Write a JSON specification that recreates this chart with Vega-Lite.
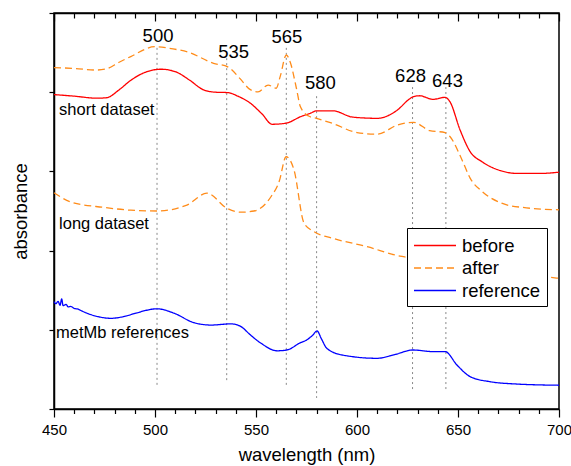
{
  "$schema": "https://vega.github.io/schema/vega-lite/v6.json",
  "width": 505,
  "height": 396,
  "autosize": {"type": "none"},
  "padding": {"left": 54, "top": 13, "right": 12, "bottom": 57},
  "background": "white",
  "config": {
    "font": "Liberation Sans",
    "view": {"stroke": "black", "strokeWidth": 1.5},
    "axis": {"domainColor": "black", "domainWidth": 1.5, "tickColor": "black", "tickWidth": 1.2, "grid": false, "labelColor": "black", "titleColor": "black", "labelFont": "Liberation Sans", "titleFont": "Liberation Sans", "titleFontWeight": "normal"}
  },
  "datasets": {
    "spectra": [
      {"w": 450, "v": 7.94, "curve": "before short", "type": "before"},
      {"w": 460, "v": 7.90, "curve": "before short", "type": "before"},
      {"w": 471, "v": 7.85, "curve": "before short", "type": "before"},
      {"w": 476, "v": 7.86, "curve": "before short", "type": "before"},
      {"w": 482, "v": 8.05, "curve": "before short", "type": "before"},
      {"w": 488, "v": 8.30, "curve": "before short", "type": "before"},
      {"w": 495, "v": 8.50, "curve": "before short", "type": "before"},
      {"w": 503, "v": 8.58, "curve": "before short", "type": "before"},
      {"w": 510, "v": 8.52, "curve": "before short", "type": "before"},
      {"w": 517, "v": 8.31, "curve": "before short", "type": "before"},
      {"w": 524, "v": 8.06, "curve": "before short", "type": "before"},
      {"w": 530, "v": 8.00, "curve": "before short", "type": "before"},
      {"w": 536, "v": 7.99, "curve": "before short", "type": "before"},
      {"w": 541, "v": 7.90, "curve": "before short", "type": "before"},
      {"w": 547, "v": 7.73, "curve": "before short", "type": "before"},
      {"w": 553, "v": 7.45, "curve": "before short", "type": "before"},
      {"w": 558, "v": 7.19, "curve": "before short", "type": "before"},
      {"w": 565, "v": 7.22, "curve": "before short", "type": "before"},
      {"w": 572, "v": 7.38, "curve": "before short", "type": "before"},
      {"w": 577, "v": 7.47, "curve": "before short", "type": "before"},
      {"w": 580, "v": 7.53, "curve": "before short", "type": "before"},
      {"w": 588, "v": 7.53, "curve": "before short", "type": "before"},
      {"w": 598, "v": 7.37, "curve": "before short", "type": "before"},
      {"w": 610, "v": 7.34, "curve": "before short", "type": "before"},
      {"w": 620, "v": 7.55, "curve": "before short", "type": "before"},
      {"w": 626, "v": 7.83, "curve": "before short", "type": "before"},
      {"w": 628, "v": 7.89, "curve": "before short", "type": "before"},
      {"w": 631, "v": 7.91, "curve": "before short", "type": "before"},
      {"w": 637.6, "v": 7.82, "curve": "before short", "type": "before"},
      {"w": 643.6, "v": 7.87, "curve": "before short", "type": "before"},
      {"w": 646, "v": 7.76, "curve": "before short", "type": "before"},
      {"w": 651, "v": 7.05, "curve": "before short", "type": "before"},
      {"w": 656, "v": 6.50, "curve": "before short", "type": "before"},
      {"w": 662, "v": 6.24, "curve": "before short", "type": "before"},
      {"w": 671, "v": 6.02, "curve": "before short", "type": "before"},
      {"w": 679, "v": 5.95, "curve": "before short", "type": "before"},
      {"w": 691, "v": 5.95, "curve": "before short", "type": "before"},
      {"w": 700, "v": 5.98, "curve": "before short", "type": "before"},

      {"w": 450, "v": 8.62, "curve": "after short", "type": "after"},
      {"w": 460, "v": 8.60, "curve": "after short", "type": "after"},
      {"w": 471, "v": 8.56, "curve": "after short", "type": "after"},
      {"w": 476, "v": 8.59, "curve": "after short", "type": "after"},
      {"w": 482, "v": 8.75, "curve": "after short", "type": "after"},
      {"w": 488, "v": 8.90, "curve": "after short", "type": "after"},
      {"w": 500, "v": 9.15, "curve": "after short", "type": "after"},
      {"w": 508, "v": 9.10, "curve": "after short", "type": "after"},
      {"w": 516, "v": 9.02, "curve": "after short", "type": "after"},
      {"w": 529, "v": 8.73, "curve": "after short", "type": "after"},
      {"w": 536, "v": 8.64, "curve": "after short", "type": "after"},
      {"w": 542, "v": 8.35, "curve": "after short", "type": "after"},
      {"w": 547, "v": 8.07, "curve": "after short", "type": "after"},
      {"w": 551, "v": 8.01, "curve": "after short", "type": "after"},
      {"w": 556, "v": 8.18, "curve": "after short", "type": "after"},
      {"w": 560, "v": 8.10, "curve": "after short", "type": "after"},
      {"w": 562, "v": 8.40, "curve": "after short", "type": "after"},
      {"w": 565, "v": 8.94, "curve": "after short", "type": "after"},
      {"w": 567, "v": 8.75, "curve": "after short", "type": "after"},
      {"w": 570, "v": 8.10, "curve": "after short", "type": "after"},
      {"w": 572, "v": 7.63, "curve": "after short", "type": "after"},
      {"w": 576, "v": 7.40, "curve": "after short", "type": "after"},
      {"w": 580, "v": 7.34, "curve": "after short", "type": "after"},
      {"w": 588, "v": 7.21, "curve": "after short", "type": "after"},
      {"w": 600, "v": 6.98, "curve": "after short", "type": "after"},
      {"w": 610, "v": 6.94, "curve": "after short", "type": "after"},
      {"w": 620, "v": 7.17, "curve": "after short", "type": "after"},
      {"w": 628, "v": 7.24, "curve": "after short", "type": "after"},
      {"w": 636, "v": 7.03, "curve": "after short", "type": "after"},
      {"w": 643.6, "v": 6.98, "curve": "after short", "type": "after"},
      {"w": 646, "v": 6.88, "curve": "after short", "type": "after"},
      {"w": 652, "v": 6.29, "curve": "after short", "type": "after"},
      {"w": 656, "v": 5.83, "curve": "after short", "type": "after"},
      {"w": 662, "v": 5.49, "curve": "after short", "type": "after"},
      {"w": 672, "v": 5.19, "curve": "after short", "type": "after"},
      {"w": 682, "v": 5.09, "curve": "after short", "type": "after"},
      {"w": 700, "v": 5.03, "curve": "after short", "type": "after"},

      {"w": 450, "v": 5.46, "curve": "after long", "type": "after"},
      {"w": 458.3, "v": 5.23, "curve": "after long", "type": "after"},
      {"w": 474.8, "v": 5.09, "curve": "after long", "type": "after"},
      {"w": 488, "v": 5.02, "curve": "after long", "type": "after"},
      {"w": 501, "v": 5.00, "curve": "after long", "type": "after"},
      {"w": 515.8, "v": 5.15, "curve": "after long", "type": "after"},
      {"w": 525.7, "v": 5.45, "curve": "after long", "type": "after"},
      {"w": 535.6, "v": 5.07, "curve": "after long", "type": "after"},
      {"w": 542.6, "v": 4.97, "curve": "after long", "type": "after"},
      {"w": 549, "v": 5.00, "curve": "after long", "type": "after"},
      {"w": 557.4, "v": 5.36, "curve": "after long", "type": "after"},
      {"w": 561.5, "v": 5.75, "curve": "after long", "type": "after"},
      {"w": 564.9, "v": 6.37, "curve": "after long", "type": "after"},
      {"w": 568.8, "v": 6.04, "curve": "after long", "type": "after"},
      {"w": 573.8, "v": 4.69, "curve": "after long", "type": "after"},
      {"w": 578.7, "v": 4.48, "curve": "after long", "type": "after"},
      {"w": 588.1, "v": 4.31, "curve": "after long", "type": "after"},
      {"w": 605, "v": 4.10, "curve": "after long", "type": "after"},
      {"w": 621.3, "v": 3.86, "curve": "after long", "type": "after"},
      {"w": 624.8, "v": 3.83, "curve": "after long", "type": "after"},
      {"w": 640, "v": 3.70, "curve": "after long", "type": "after"},
      {"w": 660, "v": 3.55, "curve": "after long", "type": "after"},
      {"w": 680, "v": 3.42, "curve": "after long", "type": "after"},
      {"w": 700, "v": 3.30, "curve": "after long", "type": "after"},

      {"w": 450, "v": 2.71, "curve": "reference", "type": "reference"},
      {"w": 451, "v": 2.66, "curve": "reference", "type": "reference"},
      {"w": 452, "v": 2.72, "curve": "reference", "type": "reference"},
      {"w": 453, "v": 2.62, "curve": "reference", "type": "reference"},
      {"w": 453.8, "v": 2.78, "curve": "reference", "type": "reference"},
      {"w": 454.5, "v": 2.61, "curve": "reference", "type": "reference"},
      {"w": 456, "v": 2.64, "curve": "reference", "type": "reference"},
      {"w": 457, "v": 2.58, "curve": "reference", "type": "reference"},
      {"w": 458.3, "v": 2.59, "curve": "reference", "type": "reference"},
      {"w": 460, "v": 2.54, "curve": "reference", "type": "reference"},
      {"w": 462, "v": 2.52, "curve": "reference", "type": "reference"},
      {"w": 464, "v": 2.47, "curve": "reference", "type": "reference"},
      {"w": 466.3, "v": 2.42, "curve": "reference", "type": "reference"},
      {"w": 472, "v": 2.33, "curve": "reference", "type": "reference"},
      {"w": 478.2, "v": 2.29, "curve": "reference", "type": "reference"},
      {"w": 485, "v": 2.34, "curve": "reference", "type": "reference"},
      {"w": 491.1, "v": 2.43, "curve": "reference", "type": "reference"},
      {"w": 501, "v": 2.53, "curve": "reference", "type": "reference"},
      {"w": 509.4, "v": 2.42, "curve": "reference", "type": "reference"},
      {"w": 519.3, "v": 2.18, "curve": "reference", "type": "reference"},
      {"w": 527.7, "v": 2.12, "curve": "reference", "type": "reference"},
      {"w": 537.6, "v": 2.15, "curve": "reference", "type": "reference"},
      {"w": 542.6, "v": 2.08, "curve": "reference", "type": "reference"},
      {"w": 547, "v": 1.88, "curve": "reference", "type": "reference"},
      {"w": 552.5, "v": 1.66, "curve": "reference", "type": "reference"},
      {"w": 560.4, "v": 1.47, "curve": "reference", "type": "reference"},
      {"w": 565.3, "v": 1.49, "curve": "reference", "type": "reference"},
      {"w": 571.8, "v": 1.67, "curve": "reference", "type": "reference"},
      {"w": 575, "v": 1.74, "curve": "reference", "type": "reference"},
      {"w": 578, "v": 1.86, "curve": "reference", "type": "reference"},
      {"w": 580.2, "v": 1.97, "curve": "reference", "type": "reference"},
      {"w": 582.5, "v": 1.76, "curve": "reference", "type": "reference"},
      {"w": 585.1, "v": 1.53, "curve": "reference", "type": "reference"},
      {"w": 593.1, "v": 1.36, "curve": "reference", "type": "reference"},
      {"w": 609.9, "v": 1.28, "curve": "reference", "type": "reference"},
      {"w": 619, "v": 1.38, "curve": "reference", "type": "reference"},
      {"w": 627.7, "v": 1.49, "curve": "reference", "type": "reference"},
      {"w": 637.6, "v": 1.45, "curve": "reference", "type": "reference"},
      {"w": 643.6, "v": 1.45, "curve": "reference", "type": "reference"},
      {"w": 649.5, "v": 1.11, "curve": "reference", "type": "reference"},
      {"w": 655.9, "v": 0.82, "curve": "reference", "type": "reference"},
      {"w": 665.8, "v": 0.69, "curve": "reference", "type": "reference"},
      {"w": 679.2, "v": 0.63, "curve": "reference", "type": "reference"},
      {"w": 700, "v": 0.60, "curve": "reference", "type": "reference"}
    ],
    "peaks": [
      {"w": 501, "top": 9.12, "bottom": 0.56, "label": "500", "lx": 501.5, "ly": 9.27},
      {"w": 535.5, "top": 8.86, "bottom": 0.66, "label": "535", "lx": 538.9, "ly": 8.86},
      {"w": 565, "top": 9.12, "bottom": 0.61, "label": "565", "lx": 565.3, "ly": 9.25},
      {"w": 580, "top": 7.90, "bottom": 0.28, "label": "580", "lx": 581.9, "ly": 8.07},
      {"w": 627.5, "top": 8.13, "bottom": 0.43, "label": "628", "lx": 626.5, "ly": 8.27},
      {"w": 644, "top": 8.13, "bottom": 0.45, "label": "643", "lx": 644.8, "ly": 8.14}
    ],
    "names": [
      {"w": 452.5, "v": 7.43, "label": "short dataset"},
      {"w": 452.5, "v": 4.54, "label": "long dataset"},
      {"w": 451, "v": 1.79, "label": "metMb references"}
    ]
  },
  "resolve": {"axis": {"x": "independent"}},
  "layer": [
    {
      "data": {"name": "peaks"},
      "mark": {"type": "rule", "color": "#888888", "strokeDash": [2, 3], "strokeWidth": 1},
      "encoding": {
        "x": {"field": "w", "type": "quantitative", "scale": {"domain": [450, 700], "nice": false, "zero": false},
          "axis": {"orient": "bottom", "values": [450,460,470,480,490,500,510,520,530,540,550,560,570,580,590,600,610,620,630,640,650,660,670,680,690,700],
            "labelExpr": "datum.value % 50 === 0 ? datum.label : ''",
            "tickSize": {"condition": {"test": "datum.value % 50 === 0", "value": 8}, "value": 4.5},
            "labelFontSize": 15, "labelPadding": 5, "labelFlush": false,
            "title": "wavelength (nm)", "titleFontSize": 18.5, "titlePadding": 8}},
        "y": {"field": "top", "type": "quantitative", "scale": {"domain": [0, 10], "nice": false, "zero": false},
          "axis": {"values": [0,1,2,3,4,5,6,7,8,9,10], "labels": false, "tickSize": 5, "title": "absorbance", "titleFontSize": 18.5, "titlePadding": 18}},
        "y2": {"field": "bottom"}
      }
    },
    {
      "data": {"name": "spectra"},
      "mark": {"type": "line", "strokeWidth": 1.3, "interpolate": "monotone"},
      "encoding": {
        "x": {"field": "w", "type": "quantitative",
          "axis": {"orient": "top", "values": [450,460,470,480,490,500,510,520,530,540,550,560,570,580,590,600,610,620,630,640,650,660,670,680,690,700],
            "labels": false, "title": null,
            "tickSize": {"condition": {"test": "datum.value % 50 === 0", "value": -8}, "value": -5}}},
        "y": {"field": "v", "type": "quantitative"},
        "detail": {"field": "curve"},
        "color": {"field": "type", "type": "nominal",
          "scale": {"domain": ["before", "after", "reference"], "range": ["#ff0000", "#ff8c1a", "#0000ff"]},
          "legend": {"title": null, "orient": "none", "legendX": 353, "legendY": 215, "strokeColor": "black", "fillColor": "white", "padding": 6, "symbolType": "M-2,0L2,0", "symbolSize": 441, "symbolOffset": 10.5, "symbolStrokeWidth": 1.5, "labelFontSize": 18.5, "labelFont": "Liberation Sans", "labelColor": "black", "rowPadding": 1.5, "labelOffset": 15.5, "cornerRadius": 0}},
        "strokeDash": {"field": "type", "type": "nominal",
          "scale": {"domain": ["before", "after", "reference"], "range": [[1, 0], [7, 4], [1, 0]]},
          "legend": {"title": null, "orient": "none", "legendX": 353, "legendY": 215, "strokeColor": "black", "fillColor": "white", "padding": 6, "symbolType": "M-2,0L2,0", "symbolSize": 441, "symbolOffset": 10.5, "symbolStrokeWidth": 1.5, "labelFontSize": 18.5, "labelFont": "Liberation Sans", "labelColor": "black", "rowPadding": 1.5, "labelOffset": 15.5, "cornerRadius": 0}}
      }
    },
    {
      "data": {"name": "peaks"},
      "mark": {"type": "text", "fontSize": 18.5, "baseline": "alphabetic", "align": "center", "color": "black"},
      "encoding": {
        "x": {"field": "lx", "type": "quantitative", "axis": null},
        "y": {"field": "ly", "type": "quantitative"},
        "text": {"field": "label"}
      }
    },
    {
      "data": {"name": "names"},
      "mark": {"type": "text", "fontSize": 16.5, "baseline": "alphabetic", "align": "left", "color": "black"},
      "encoding": {
        "x": {"field": "w", "type": "quantitative", "axis": null},
        "y": {"field": "v", "type": "quantitative"},
        "text": {"field": "label"}
      }
    }
  ]
}
